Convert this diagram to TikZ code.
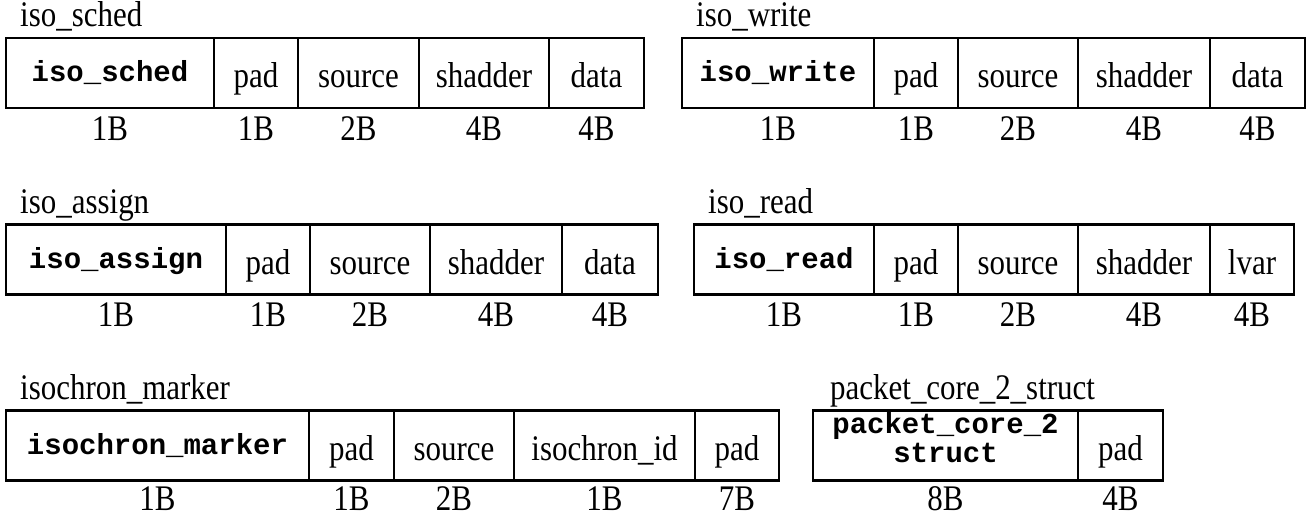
\documentclass[tikz,border=0pt]{standalone}
\usepackage{fontspec}
\setmainfont{Liberation Serif}[FakeStretch=0.86]
\newfontfamily\codefont{Liberation Mono}
\newcommand{\txtsize}{\fontsize{36}{38}\selectfont}
\newcommand{\codesize}{\fontsize{29}{26}\selectfont}
\tikzset{
  cell/.style={draw, line width=2.6pt, minimum height=70pt, inner sep=0pt, anchor=center,
    font=\txtsize, align=center, text height=36pt, text depth=6pt},
  keycell/.style={cell, font=\codefont\bfseries\codesize, text height=24pt, text depth=6pt},
  twoline/.style={keycell, text height=39pt, text depth=6pt},
  rowtitle/.style={anchor=base west, inner sep=0pt, font=\txtsize},
  bytes/.style={anchor=base, inner sep=0pt, font=\txtsize, text depth=0pt}
}
\begin{document}
\begin{tikzpicture}[x=1pt,y=-1pt]
\useasboundingbox (0,0) rectangle (1311,516);
% ---------- row 1 left: iso_sched
\node[rowtitle] (t1) at (20,27) {iso\_sched};
\node[keycell, minimum width=208] (a1) at (110,73) {iso\_sched};
\node[cell, minimum width=84]  (a2) at (256,73) {pad};
\node[cell, minimum width=121] (a3) at (358.5,73) {source};
\node[cell, minimum width=130] (a4) at (484,73) {shadder};
\node[cell, minimum width=95]  (a5) at (596.5,73) {data};
\node[bytes] at (110,140) {1B};
\node[bytes] at (256,140) {1B};
\node[bytes] at (358.5,140) {2B};
\node[bytes] at (484,140) {4B};
\node[bytes] at (596.5,140) {4B};
% ---------- row 1 right: iso_write
\node[rowtitle] (t2) at (696,27) {iso\_write};
\node[keycell, minimum width=192] (b1) at (778,73) {iso\_write};
\node[cell, minimum width=84]  (b2) at (916,73) {pad};
\node[cell, minimum width=120] (b3) at (1018,73) {source};
\node[cell, minimum width=132] (b4) at (1144,73) {shadder};
\node[cell, minimum width=95]  (b5) at (1257.5,73) {data};
\node[bytes] at (778,140) {1B};
\node[bytes] at (916,140) {1B};
\node[bytes] at (1018,140) {2B};
\node[bytes] at (1144,140) {4B};
\node[bytes] at (1257.5,140) {4B};
% ---------- row 2 left: iso_assign
\node[rowtitle] (t3) at (20,213) {iso\_assign};
\node[keycell, minimum width=220] (c1) at (116,259.5) {iso\_assign};
\node[cell, minimum width=84]  (c2) at (268,259.5) {pad};
\node[cell, minimum width=120] (c3) at (370,259.5) {source};
\node[cell, minimum width=132] (c4) at (496,259.5) {shadder};
\node[cell, minimum width=96]  (c5) at (610,259.5) {data};
\node[bytes] at (116,326) {1B};
\node[bytes] at (268,326) {1B};
\node[bytes] at (370,326) {2B};
\node[bytes] at (496,326) {4B};
\node[bytes] at (610,326) {4B};
% ---------- row 2 right: iso_read
\node[rowtitle] (t4) at (708,213) {iso\_read};
\node[keycell, minimum width=180] (d1) at (784,259.5) {iso\_read};
\node[cell, minimum width=84]  (d2) at (916,259.5) {pad};
\node[cell, minimum width=120] (d3) at (1018,259.5) {source};
\node[cell, minimum width=132] (d4) at (1144,259.5) {shadder};
\node[cell, minimum width=84]  (d5) at (1252,259.5) {lvar};
\node[bytes] at (784,326) {1B};
\node[bytes] at (916,326) {1B};
\node[bytes] at (1018,326) {2B};
\node[bytes] at (1144,326) {4B};
\node[bytes] at (1252,326) {4B};
% ---------- row 3 left: isochron_marker
\node[rowtitle] (t5) at (20,399) {isochron\_marker};
\node[keycell, minimum width=303] (e1) at (157.5,445.5) {isochron\_marker};
\node[cell, minimum width=85]  (e2) at (351.5,445.5) {pad};
\node[cell, minimum width=120] (e3) at (454,445.5) {source};
\node[cell, minimum width=181] (e4) at (604.5,445.5) {isochron\_id};
\node[cell, minimum width=84]  (e5) at (737,445.5) {pad};
\node[bytes] at (157.5,510) {1B};
\node[bytes] at (351.5,510) {1B};
\node[bytes] at (454,510) {2B};
\node[bytes] at (604.5,510) {1B};
\node[bytes] at (737,510) {7B};
% ---------- row 3 right: packet_core_2_struct
\node[rowtitle] (t6) at (830,399) {packet\_core\_2\_struct};
\node[twoline, minimum width=265] (f1) at (945.5,445.5) {packet\_core\_2\\[3pt]struct};
\node[cell, minimum width=85]  (f2) at (1120.5,445.5) {pad};
\node[bytes] at (945.5,510) {8B};
\node[bytes] at (1120.5,510) {4B};
\end{tikzpicture}
\end{document}
